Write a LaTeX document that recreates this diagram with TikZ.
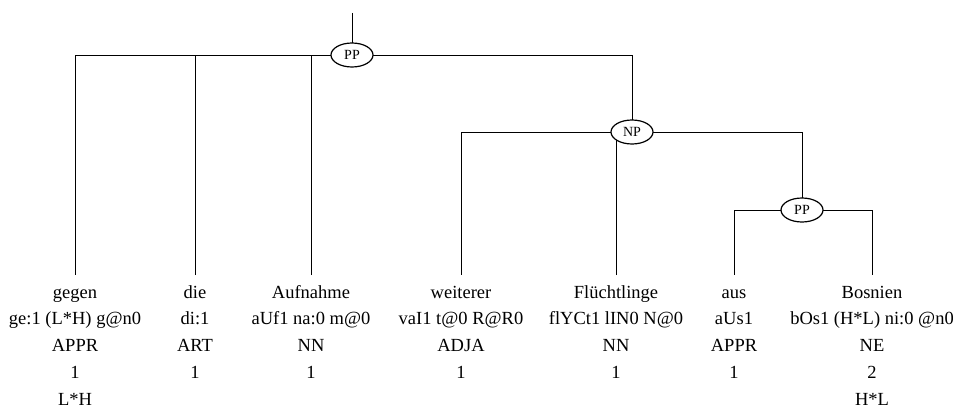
\documentclass[tikz,border=0pt]{standalone}
\usepackage{fontspec}
\setmainfont{Liberation Serif}
\usetikzlibrary{shapes.geometric,backgrounds}
\begin{document}
\begin{tikzpicture}[x=1pt,y=-1pt,line width=1.2pt,
  cat/.style={draw,ellipse,fill=white,minimum width=42pt,minimum height=24pt,inner sep=0pt,font=\fontsize{14}{16}\selectfont},
  word/.style={anchor=base,inner sep=0pt,text height=13pt,text depth=4pt,outer ysep=10pt,font=\fontsize{18.5}{22}\selectfont},
  row/.style={anchor=base,inner sep=0pt,font=\fontsize{18.5}{22}\selectfont}]
\useasboundingbox (0,0) rectangle (953,409);
\node[cat] (pp1) at (352,55) {PP};
\node[cat] (np) at (632,132) {NP};
\node[cat] (pp2) at (802,210) {PP};
\coordinate (top) at (352,13);
% words
\node[word] (w1) at (75,298) {gegen};
\node[word] (w2) at (195,298) {die};
\node[word] (w3) at (311,298) {Aufnahme};
\node[word] (w4) at (461,298) {weiterer};
\node[word] (w5) at (616,298) {Flüchtlinge};
\node[word] (w6) at (734,298) {aus};
\node[word] (w7) at (872,298) {Bosnien};
% row 2
\node[row] (p1) at (75,324) {ge:1 (L*H) g@n0};
\node[row] (p2) at (195,324) {di:1};
\node[row] (p3) at (311,324) {aUf1 na:0 m@0};
\node[row] (p4) at (461,324) {vaI1 t@0 R@R0};
\node[row] (p5) at (616,324) {flYCt1 lIN0 N@0};
\node[row] (p6) at (734,324) {aUs1};
\node[row] (p7) at (872,324) {bOs1 (H*L) ni:0 @n0};
% row 3
\node[row] (t1) at (75,351) {APPR};
\node[row] (t2) at (195,351) {ART};
\node[row] (t3) at (311,351) {NN};
\node[row] (t4) at (461,351) {ADJA};
\node[row] (t5) at (616,351) {NN};
\node[row] (t6) at (734,351) {APPR};
\node[row] (t7) at (872,351) {NE};
% row 4
\node[row] (n1) at (75,378) {1};
\node[row] (n2) at (195,378) {1};
\node[row] (n3) at (311,378) {1};
\node[row] (n4) at (461,378) {1};
\node[row] (n5) at (616,378) {1};
\node[row] (n6) at (734,378) {1};
\node[row] (n7) at (872,378) {2};
% row 5
\node[row] (a1) at (75,405) {L*H};
\node[row] (a7) at (872,405) {H*L};
\begin{pgfonlayer}{background}
\draw (top) -- (pp1.center);
\draw (pp1.center) -| (w1.north);
\draw (w2.north) -- (w2.north |- pp1.center);
\draw (w3.north) -- (w3.north |- pp1.center);
\draw (pp1.center) -| (np.center);
\draw (np.center) -| (w4.north);
\draw (w5.north) -- (w5.north |- np.center);
\draw (np.center) -| (pp2.center);
\draw (pp2.center) -| (w6.north);
\draw (pp2.center) -| (w7.north);
\end{pgfonlayer}
\end{tikzpicture}
\end{document}
